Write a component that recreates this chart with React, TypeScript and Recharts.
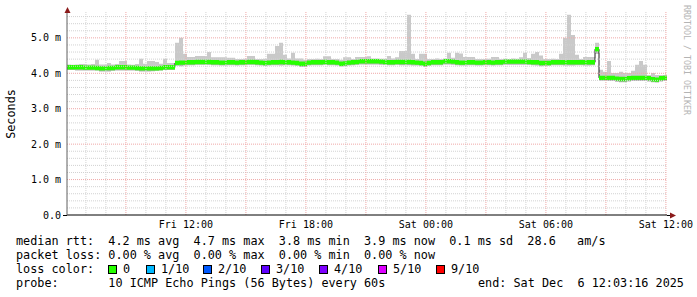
import React from "react";
import {
  ComposedChart,
  Area,
  XAxis,
  YAxis,
  ReferenceLine,
} from "recharts";

// ---- time axis (hours since Fri 00:00) ----
const START_HOUR = 6 + 3 / 60 + 16 / 3600; // Fri 06:03:16
const END_HOUR = START_HOUR + 30; // Sat 12:03:16
const BIN_HOURS = 0.2; // 12 min per consolidated step

const TICK_HOURS = [12, 18, 24, 30, 36];
const TICK_LABELS = ["Fri 12:00", "Fri 18:00", "Sat 00:00", "Sat 06:00", "Sat 12:00"];
const MINOR_HOURS = [7, 8, 10, 11, 13, 14, 16, 17, 19, 20, 22, 23, 25, 26, 28, 29, 31, 32, 34, 35];
const MAJOR_HOURS = [9, 12, 15, 18, 21, 24, 27, 30, 33, 36];

const Y_TICKS = [0, 1, 2, 3, 4, 5];
const Y_TICK_LABELS = ["0.0", "1.0 m", "2.0 m", "3.0 m", "4.0 m", "5.0 m"];
const Y_MINOR = [0.2, 0.4, 0.6, 0.8, 1.2, 1.4, 1.6, 1.8, 2.2, 2.4, 2.6, 2.8, 3.2, 3.4, 3.6, 3.8, 4.2, 4.4, 4.6, 4.8, 5.2, 5.4, 5.6];
const Y_MAJOR = [1, 2, 3, 4, 5];
const Y_MAX = 5.73;

// ---- series (ms) ----
const MEDIAN = [
  4.17, 4.17, 4.17, 4.17, 4.16, 4.16, 4.16, 4.15, 4.14, 4.14,
  4.15, 4.15, 4.17, 4.17, 4.17, 4.16, 4.16, 4.15, 4.14, 4.14,
  4.14, 4.14, 4.14, 4.15, 4.17, 4.17, 4.17, 4.29,
  4.30, 4.30, 4.31, 4.31, 4.32, 4.32, 4.32, 4.32, 4.31, 4.31,
  4.30, 4.30, 4.31, 4.31, 4.30, 4.31, 4.31, 4.32, 4.32, 4.31,
  4.30, 4.29, 4.30, 4.31, 4.31, 4.32, 4.31, 4.31, 4.30, 4.29,
  4.27, 4.27, 4.30, 4.31, 4.31, 4.31, 4.32, 4.31, 4.31, 4.30,
  4.27, 4.28, 4.30, 4.31, 4.32, 4.34, 4.34, 4.34, 4.34, 4.34,
  4.33, 4.32, 4.31, 4.31, 4.32, 4.32, 4.32, 4.32, 4.31, 4.30,
  4.29, 4.27, 4.29, 4.31, 4.31, 4.31, 4.34, 4.34, 4.33, 4.31,
  4.30, 4.30, 4.31, 4.31, 4.30, 4.30, 4.31, 4.31, 4.30, 4.31,
  4.31, 4.33, 4.33, 4.33, 4.33, 4.33, 4.33, 4.32, 4.31, 4.31,
  4.29, 4.29, 4.29, 4.31, 4.31, 4.31, 4.31, 4.31, 4.31, 4.31,
  4.31, 4.31, 4.31, 4.31, 4.68,
  3.87, 3.87, 3.87, 3.87, 3.85, 3.84, 3.84, 3.86, 3.87, 3.87,
  3.87, 3.87, 3.86, 3.83, 3.82, 3.86, 3.87,
];

const HI = [
  4.25, 4.24, 4.25, 4.26, 4.26, 4.25, 4.26, 4.38, 4.25, 4.25,
  4.29, 4.25, 4.26, 4.35, 4.35, 4.25, 4.24, 4.26, 4.41, 4.27,
  4.35, 4.35, 4.32, 4.27, 4.41, 4.29, 4.29, 4.86,
  5.00, 4.55, 4.46, 4.46, 4.49, 4.49, 4.49, 4.60, 4.45, 4.45,
  4.45, 4.45, 4.44, 4.44, 4.40, 4.40, 4.41, 4.49, 4.49, 4.40,
  4.40, 4.41, 4.55, 4.55, 4.77, 4.86, 4.52, 4.42, 4.58, 4.42,
  4.42, 4.38, 4.40, 4.40, 4.41, 4.40, 4.48, 4.48, 4.40, 4.40,
  4.38, 4.45, 4.45, 4.40, 4.46, 4.46, 4.46, 4.48, 4.42, 4.42,
  4.41, 4.41, 4.49, 4.42, 4.45, 4.63, 4.63, 5.65, 4.55, 4.40,
  4.55, 4.55, 4.40, 4.40, 4.42, 4.40, 4.42, 4.58, 4.44, 4.58,
  4.56, 4.46, 4.46, 4.46, 4.40, 4.40, 4.40, 4.41, 4.46, 4.46,
  4.40, 4.41, 4.40, 4.42, 4.41, 4.45, 4.58, 4.43, 4.55, 4.60,
  4.50, 4.40, 4.40, 4.41, 4.40, 4.55, 5.00, 5.65, 5.08, 4.52,
  4.40, 4.46, 4.46, 4.46, 4.86,
  4.10, 4.04, 4.35, 4.01, 4.01, 4.04, 4.01, 4.01, 4.07, 4.24,
  4.35, 4.24, 3.95, 4.01, 3.95, 3.95, 3.95,
];

const LO = [
  4.09, 4.09, 4.08, 4.08, 4.08, 4.08, 4.08, 4.08, 4.05, 4.05,
  4.05, 4.07, 4.08, 4.08, 4.08, 4.08, 4.08, 4.07, 4.05, 4.05,
  4.05, 4.06, 4.07, 4.08, 4.09, 4.09, 4.09, 4.22,
  4.20, 4.22, 4.23, 4.23, 4.24, 4.24, 4.24, 4.24, 4.23, 4.23,
  4.22, 4.22, 4.23, 4.23, 4.22, 4.23, 4.23, 4.24, 4.24, 4.23,
  4.22, 4.21, 4.22, 4.23, 4.23, 4.22, 4.23, 4.23, 4.22, 4.21,
  4.18, 4.18, 4.22, 4.23, 4.23, 4.23, 4.24, 4.23, 4.23, 4.22,
  4.19, 4.20, 4.22, 4.23, 4.24, 4.25, 4.25, 4.25, 4.25, 4.25,
  4.24, 4.24, 4.23, 4.23, 4.24, 4.23, 4.23, 4.23, 4.22, 4.22,
  4.21, 4.18, 4.21, 4.23, 4.23, 4.23, 4.25, 4.25, 4.24, 4.23,
  4.22, 4.22, 4.23, 4.23, 4.22, 4.22, 4.23, 4.23, 4.22, 4.23,
  4.23, 4.24, 4.24, 4.24, 4.24, 4.24, 4.24, 4.24, 4.23, 4.22,
  4.20, 4.21, 4.21, 4.23, 4.23, 4.23, 4.22, 4.22, 4.22, 4.23,
  4.23, 4.22, 4.22, 4.23, 4.55,
  3.79, 3.79, 3.78, 3.78, 3.76, 3.75, 3.75, 3.77, 3.78, 3.78,
  3.78, 3.78, 3.77, 3.75, 3.74, 3.77, 3.78,
];

const LOSS_LABELS = ["0", "1/10", "2/10", "3/10", "4/10", "5/10", "9/10"];
const LOSS_COLORS = ["#26ff00", "#00b8ff", "#0059ff", "#5e00ff", "#7e00ff", "#dd00ff", "#ff0000"];
const LOSS_BOX_X = [108, 146, 203, 261, 319, 378, 436];

const LEGEND_LINES = [
  "median rtt:  4.2 ms avg  4.7 ms max  3.8 ms min  3.9 ms now  0.1 ms sd  28.6   am/s",
  "packet loss: 0.00 % avg  0.00 % max  0.00 % min  0.00 % now",
  "loss color:",
  "probe:       10 ICMP Echo Pings (56 Bytes) every 60s",
];
const END_TEXT = "end: Sat Dec  6 12:03:16 2025";

const rows = MEDIAN.map((m, i) => ({
  t: START_HOUR + i * BIN_HOURS,
  median: m,
  lo: LO[i],
  hi: HI[i],
}));
const data = [...rows, { ...rows[rows.length - 1], t: END_HOUR }];

const MONO = "'DejaVu Sans Mono', monospace";
const BAND = 0.062;

export default function App() {
  return (
    <div
      style={{
        position: "fixed",
        left: 0,
        top: 0,
        width: 697,
        height: 297,
        background: "#fff",
        fontFamily: MONO,
        overflow: "hidden",
      }}
    >
      <ComposedChart
        width={697}
        height={232}
        data={data}
        margin={{ top: 12, right: 30, bottom: 0, left: 7 }}
      >
        {MINOR_HOURS.map((h) => (
          <ReferenceLine key={"vm" + h} x={h} stroke="#d2d2d2" strokeDasharray="1 1" />
        ))}
        {Y_MINOR.map((v) => (
          <ReferenceLine key={"hm" + v} y={v} stroke="#d2d2d2" strokeDasharray="1 1" />
        ))}
        {MAJOR_HOURS.map((h) => (
          <ReferenceLine key={"vM" + h} x={h} stroke="#efa8a8" strokeDasharray="1 1" />
        ))}
        {Y_MAJOR.map((v) => (
          <ReferenceLine key={"hM" + v} y={v} stroke="#efa8a8" strokeDasharray="1 1" />
        ))}
        <XAxis
          dataKey="t"
          type="number"
          domain={[START_HOUR, END_HOUR]}
          ticks={TICK_HOURS}
          interval={0}
          tickFormatter={(v) => TICK_LABELS[TICK_HOURS.indexOf(v)] ?? ""}
          height={17}
          tickSize={0}
          tickMargin={6}
          tickLine={false}
          axisLine={{ stroke: "#000", strokeWidth: 1 }}
          tick={{ fontFamily: MONO, fontSize: 10, fill: "#000" }}
        />
        <YAxis
          type="number"
          domain={[0, Y_MAX]}
          ticks={Y_TICKS}
          interval={0}
          tickFormatter={(v) => Y_TICK_LABELS[Y_TICKS.indexOf(v)] ?? ""}
          width={60}
          tickSize={0}
          tickMargin={6}
          tickLine={false}
          axisLine={{ stroke: "#606060", strokeWidth: 1 }}
          tick={{ fontFamily: MONO, fontSize: 10, fill: "#000" }}
        />
        <Area
          type="stepAfter"
          dataKey={(d: any) => [d.lo, d.median]}
          stroke="none"
          fill="#b2b2b2"
          fillOpacity={1}
          isAnimationActive={false}
          dot={false}
          activeDot={false}
        />
        <Area
          type="stepAfter"
          dataKey={(d: any) => [d.median, d.hi]}
          stroke="none"
          fill="#c9c9c9"
          fillOpacity={1}
          isAnimationActive={false}
          dot={false}
          activeDot={false}
        />
        <Area
          type="stepAfter"
          dataKey="median"
          stroke="#1a1a1a"
          strokeWidth={1}
          fill="none"
          fillOpacity={0}
          isAnimationActive={false}
          dot={false}
          activeDot={false}
        />
        <Area
          type="stepAfter"
          dataKey={(d: any) => [d.median - BAND, d.median + BAND]}
          stroke="none"
          fill="#26ff00"
          fillOpacity={1}
          isAnimationActive={false}
          dot={false}
          activeDot={false}
        />
      </ComposedChart>

      <svg
        width={697}
        height={297}
        style={{ position: "absolute", left: 0, top: 0, pointerEvents: "none" }}
      >
        <line x1={63} y1={215.5} x2={67} y2={215.5} stroke="#000" />
        <line x1={667} y1={215.5} x2={671} y2={215.5} stroke="#000" />
        <polygon points="676,215.5 670,212.5 670,218.5" fill="#8b1a1a" />
        <line x1={67.5} y1={12} x2={67.5} y2={9} stroke="#606060" />
        <polygon points="67.5,7 64.5,13 70.5,13" fill="#8b1a1a" />
        <text
          x={11}
          y={114}
          transform="rotate(-90 11 114)"
          textAnchor="middle"
          dominantBaseline="central"
          fontFamily={MONO}
          fontSize={11.8}
          fill="#000"
        >
          Seconds
        </text>
        <text
          x={684}
          y={5}
          transform="rotate(90 684 5)"
          textAnchor="start"
          fontFamily={MONO}
          fontSize={8.3}
          fill="#b4b4b4"
        >
          RRDTOOL / TOBI OETIKER
        </text>
      </svg>

      {LEGEND_LINES.map((line, i) => (
        <div
          key={"lg" + i}
          style={{
            position: "absolute",
            left: 16,
            top: 234 + i * 14,
            fontSize: 11.8,
            lineHeight: "14px",
            whiteSpace: "pre",
            color: "#000",
            fontFamily: MONO,
          }}
        >
          {line}
        </div>
      ))}
      {LOSS_LABELS.map((lab, i) => (
        <React.Fragment key={"loss" + i}>
          <div
            style={{
              position: "absolute",
              left: LOSS_BOX_X[i],
              top: 265,
              width: 7,
              height: 7,
              border: "1px solid #000",
              background: LOSS_COLORS[i],
            }}
          />
          <div
            style={{
              position: "absolute",
              left: LOSS_BOX_X[i] + 15,
              top: 262,
              fontSize: 11.8,
              lineHeight: "14px",
              whiteSpace: "pre",
              color: "#000",
              fontFamily: MONO,
            }}
          >
            {lab}
          </div>
        </React.Fragment>
      ))}
      <div
        style={{
          position: "absolute",
          left: 478,
          top: 276,
          fontSize: 11.8,
          lineHeight: "14px",
          whiteSpace: "pre",
          color: "#000",
          fontFamily: MONO,
        }}
      >
        {END_TEXT}
      </div>
    </div>
  );
}
